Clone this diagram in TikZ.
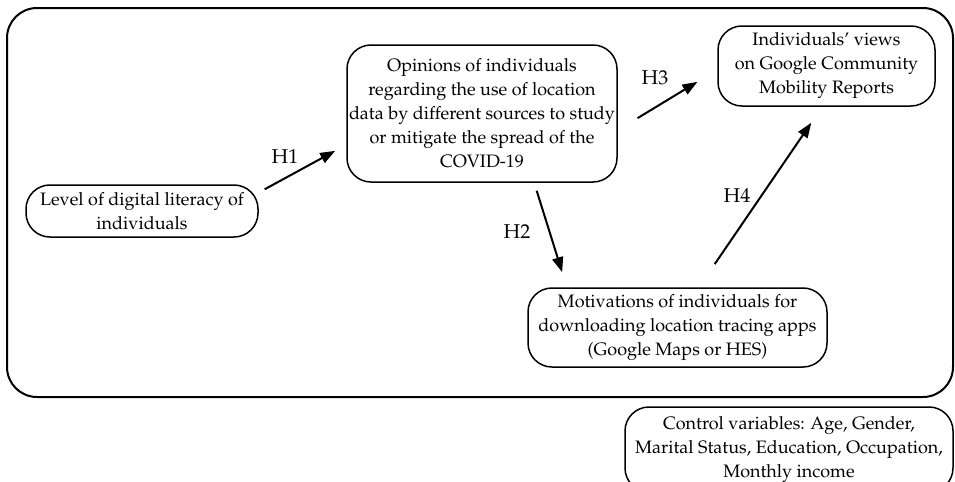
\documentclass[tikz,border=0pt]{standalone}
\usepackage[T1]{fontenc}
\usepackage{mathpazo}
\usetikzlibrary{arrows.meta}

\tikzset{
  box/.style={draw, line width=0.75pt, rounded corners=12pt, align=center,
    inner sep=0pt, font=\fontsize{9}{12}\selectfont},
  hyp/.style={line width=1pt, -{Triangle[length=7.5pt,width=5.5pt]}},
  hlabel/.style={font=\fontsize{10}{12}\selectfont},
}

\begin{document}
\begin{tikzpicture}[x=0.5pt,y=-0.5pt]
  \useasboundingbox (0,0) rectangle (955,482);
  \draw[line width=1pt, rounded corners=15pt] (7,8) rectangle (953,397);

  \node[box, minimum width=116pt, minimum height=26pt] (lvl) at (142,211)
    {Level of digital literacy of\\individuals};
  \node[box, minimum width=135pt, minimum height=68.5pt] (opn) at (482,113.5)
    {Opinions of individuals\\regarding the use of location\\data by different sources to study\\or mitigate the spread of the\\COVID-19};
  \node[box, minimum width=108.5pt, minimum height=40pt] (gcmr) at (826.5,66)
    {Individuals' views\\on Google Community\\Mobility Reports};
  \node[box, minimum width=149.5pt, minimum height=39.5pt] (mot) at (677.5,327.5)
    {Motivations of individuals for\\downloading location tracing apps\\(Google Maps or HES)};
  \node[box, minimum width=164pt, minimum height=42.5pt] (ctrl) at (789,449.5)
    {Control variables: Age, Gender,\\Marital Status, Education, Occupation,\\Monthly income};

  \draw[hyp, shorten <=3.4pt, shorten >=6.3pt] (lvl.9) -- (opn.193);
  \draw[hyp, shorten <=4.2pt, shorten >=7.9pt] (opn.-53) -- (mot.160);
  \draw[hyp, shorten <=11.6pt, shorten >=11.6pt] (opn.-7.5) -- (gcmr.182.8);
  \draw[hyp, shorten <=14pt, shorten >=9.7pt] (mot.62) -- (gcmr.264);

  \node[hlabel] (h1) at (285,157) {H1};
  \node[hlabel] (h2) at (517,232) {H2};
  \node[hlabel] (h3) at (655,78) {H3};
  \node[hlabel] (h4) at (737,196) {H4};
\end{tikzpicture}
\end{document}
